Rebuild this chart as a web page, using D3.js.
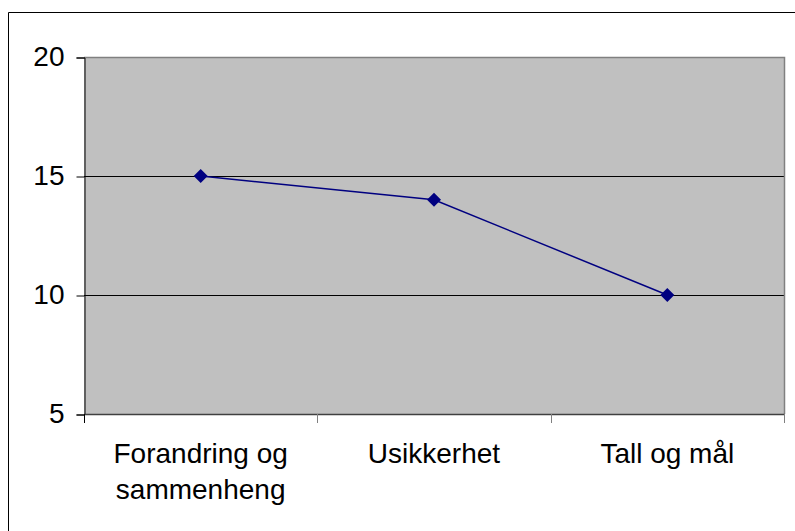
<!DOCTYPE html>
<html>
<head>
<meta charset="utf-8">
<script src="https://cdn.jsdelivr.net/npm/d3@7"></script>
<style>
  html, body { margin: 0; padding: 0; background: #ffffff; }
  svg { display: block; }
  text { font-family: "Liberation Sans", Arial, sans-serif; fill: #000; }
</style>
</head>
<body>
<svg id="chart" width="795" height="531"></svg>
<script>
const categories = ["Forandring og sammenheng", "Usikkerhet", "Tall og mål"];
const categoryLines = [["Forandring og", "sammenheng"], ["Usikkerhet"], ["Tall og mål"]];
const values = [15, 14, 10];
const yTicks = [5, 10, 15, 20];

const svg = d3.select("#chart");
const plot = { left: 84, top: 57, right: 784, bottom: 414 };
const fontSize = 28;

// outer frame (only top and left edges fall inside the canvas)
svg.append("path")
  .attr("d", `M8.5,531 V12.5 H795`)
  .attr("fill", "none").attr("stroke", "#000").attr("stroke-width", 1);

const x = d3.scaleBand().domain(categories).range([plot.left, plot.right]).paddingInner(0).paddingOuter(0);
const y = d3.scaleLinear().domain([5, 20]).range([plot.bottom, plot.top]);

// plot area
svg.append("rect")
  .attr("x", plot.left).attr("y", plot.top)
  .attr("width", plot.right - plot.left).attr("height", plot.bottom - plot.top)
  .attr("fill", "#c0c0c0");

// horizontal gridlines
svg.append("g").selectAll("line").data(yTicks.filter(t => t > 5 && t < 20)).join("line")
  .attr("x1", plot.left).attr("x2", plot.right)
  .attr("y1", d => Math.round(y(d)) + 0.5).attr("y2", d => Math.round(y(d)) + 0.5)
  .attr("stroke", "#000").attr("stroke-width", 1);

// top and right border of the plot area
svg.append("path")
  .attr("d", `M${plot.left},${plot.top + 0.5} H${plot.right + 0.5} V${plot.bottom}`)
  .attr("fill", "none").attr("stroke", "#808080").attr("stroke-width", 1.5);

// y axis
const yAxis = d3.axisLeft(y).tickValues(yTicks).tickSize(8).tickPadding(12).tickFormat(d3.format("d"));
const gy = svg.append("g").attr("transform", `translate(${plot.left + 0.5},0.5)`).call(yAxis);
gy.attr("font-size", fontSize).attr("font-family", "Liberation Sans, Arial, sans-serif");
gy.select(".domain").attr("stroke", "#000");
gy.selectAll(".tick line").attr("stroke", "#000");
gy.selectAll(".tick text").attr("dy", "0.3em").attr("fill", "#000");

// x axis line and boundary ticks
const boundaries = categories.map(c => x(c)).concat([x(categories[categories.length - 1]) + x.bandwidth()]);
svg.append("line")
  .attr("x1", plot.left).attr("x2", plot.right + 0.5)
  .attr("y1", plot.bottom + 0.5).attr("y2", plot.bottom + 0.5)
  .attr("stroke", "#404040").attr("stroke-width", 1.5);
svg.append("g").selectAll("line").data(boundaries).join("line")
  .attr("x1", d => Math.round(d) + 0.5).attr("x2", d => Math.round(d) + 0.5)
  .attr("y1", plot.bottom).attr("y2", plot.bottom + 9)
  .attr("stroke", (d, i) => i === 0 ? "#000" : "#808080").attr("stroke-width", 1);

// category labels
const labels = svg.append("g").selectAll("text").data(categories).join("text")
  .attr("x", d => x(d) + x.bandwidth() / 2)
  .attr("y", 463)
  .attr("text-anchor", "middle")
  .attr("font-size", fontSize);
labels.each(function(d, i) {
  d3.select(this).selectAll("tspan").data(categoryLines[i]).join("tspan")
    .attr("x", x(d) + x.bandwidth() / 2)
    .attr("dy", (t, j) => j === 0 ? 0 : 36)
    .text(t => t);
});

// series line
const line = d3.line().x((d, i) => x(categories[i]) + x.bandwidth() / 2).y(d => y(d));
svg.append("path").datum(values)
  .attr("d", line)
  .attr("fill", "none").attr("stroke", "#000080").attr("stroke-width", 1.5);

// diamond markers
svg.append("g").selectAll("path").data(values).join("path")
  .attr("transform", (d, i) => `translate(${x(categories[i]) + x.bandwidth() / 2},${y(d)})`)
  .attr("d", "M0,-7 L7,0 L0,7 L-7,0 Z")
  .attr("fill", "#000080");
</script>
</body>
</html>
